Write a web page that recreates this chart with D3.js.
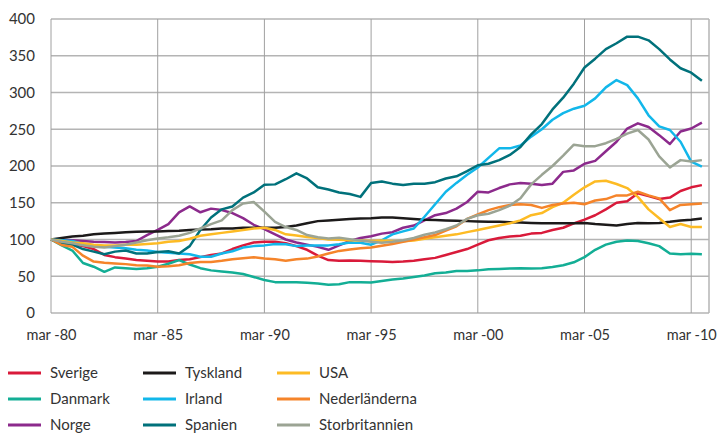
<!DOCTYPE html>
<html><head><meta charset="utf-8">
<script src="https://cdn.jsdelivr.net/npm/d3@7"></script>
<style>
html,body{margin:0;padding:0;background:#fff;}
svg{display:block;font-family:Lato,"Open Sans",sans-serif;}
</style></head><body>
<svg id="chart" width="720" height="434"></svg>
<script>
// Half-yearly observations (March / September), index 1980-03 = 100
const dates = ["1980-03","1980-09","1981-03","1981-09","1982-03","1982-09","1983-03","1983-09","1984-03","1984-09",
"1985-03","1985-09","1986-03","1986-09","1987-03","1987-09","1988-03","1988-09","1989-03","1989-09",
"1990-03","1990-09","1991-03","1991-09","1992-03","1992-09","1993-03","1993-09","1994-03","1994-09",
"1995-03","1995-09","1996-03","1996-09","1997-03","1997-09","1998-03","1998-09","1999-03","1999-09",
"2000-03","2000-09","2001-03","2001-09","2002-03","2002-09","2003-03","2003-09","2004-03","2004-09",
"2005-03","2005-09","2006-03","2006-09","2007-03","2007-09","2008-03","2008-09","2009-03","2009-09",
"2010-03","2010-09"];

const sverige = [100,97,94,91,87,79,76,74,72,71, 70,70,72,73,76,79,81,87,92,96,
 97,97,95,91,86,78,72,71,71.5,71, 70.5,70,69.5,70,71,73,75,79,83,87,
 93,99,102,104,105,108,109,113,116,122, 127,133,141,150,152,163,159,155,157,166, 171,174];
const danmark = [100,92,85,68,63,56,62,61,60,61, 63,67,72,66,61,58,56.5,55,53,49,
 45,42,42,42,41,40,38.5,39,42,42, 41.5,43.5,45.5,47,49,51,54,55,57,57,
 58,59.5,60,60.5,61,60.5,61,62.5,65,69, 76,86,93,97,98.5,98,95,91,81,80, 80.5,80];
const norge = [100,99.5,99,98,97,96.5,96,96.5,98,106, 113,121,137,145,137,142,140,136,129,120,
 114,107,100,96,93,90,86,92,98,102, 104.5,108,110,116,119,126,133,136,142,151,
 165,164,170,175,177,176,174,176,192,194, 203,207,220,233,251,258,253,242,230,247, 251,259];
const tyskland = [100,102,104,105,107,108,109,110,110.5,111, 111,111.5,112,113,113.5,114,115,115,116,116,
 116,116,117,119,122,125,126,127,128,128.5, 129,130,130,129,128,127,126.5,126,125.5,125,
 124.5,124,124,123.5,123,122.5,122,122,122,122, 122.5,121,120,119,121,122.5,122,122.5,124,126, 127,128.5];
const irland = [100,99,98,94,92,90,89,88,86,85, 83,82,81,80,76.5,76.5,81,84,89,91,
 92,94,93.5,91,92,92,92,93.5,96,95.5, 93,99,107,111,115,131,148,165,177,188,
 198,211,224,224,228,240,250,263,272,278, 282,292,307,317,310,292,269,254,249,233, 206,199];
const spanien = [100,95,93,87,83.5,80,83.5,85,81,81, 83,84,81,91,113,130,141,145,157,164,
 174.5,175,182,190,183,171,168,164,162,158, 177,179,176,174,176,176,178,183,186,193,
 201,203,208,215,226,243,257,277,293,312, 334,346,359,367,376,376,371,359,345,333, 327,316];
const usa = [100,98,96,95,93,92,92,93,93,94, 95,97,98,101,105,107,109,111,113,115,
 116,113,107,105.5,103.5,102,100,99.5,99,98.5, 98,98.5,98,97.5,98.5,101,103,105,107,110,
 113,116,119,122,126,133,136,144,150,161, 171,179,180,175.5,170,158,141,129,117,121, 117,117];
const nederlanderna = [100,92.5,90,78,70,68.5,67.5,66.5,65,64.5, 63,63.5,65,68,69.5,69.5,71,73,74.5,76,
 74,73,71,73,74,77,81,84.5,86.5,88, 89,91.5,94,97,100,103,106,112,118,128,
 134,140,144,147,148,147,143,147,149,150, 148,153,155,160,160,165,160,156,140,147, 148,149];
const storbritannien = [100,97,95,92,90,89,91,93,96,99, 101.5,103,105,109,115,121,126,140,149,151,
 138,124,117,113,106,103,101.5,102.5,100.5,98.5, 97,95.5,97,99,102,106.5,109.5,114,119,128,
 133,135,140,146,156,175,188,200,214,229, 227,227,231,237,244,249,236,213,198,208, 206,208];

const seriesNames = ["Sverige","Danmark","Norge","Tyskland","Irland","Spanien","USA","Nederländerna","Storbritannien"];
const seriesValues = [sverige,danmark,norge,tyskland,irland,spanien,usa,nederlanderna,storbritannien];
const seriesColors = ["#d91a3a","#13ae95","#8c2a8c","#1c1a1a","#12b7ea","#00717b","#fdbb24","#f5842a","#9ba494"];

const xTickDates = ["1980-03","1985-03","1990-03","1995-03","2000-03","2005-03","2010-03"];
const xTickLabels = ["mar -80","mar -85","mar -90","mar -95","mar -00","mar -05","mar -10"];
const yTicks = [0,50,100,150,200,250,300,350,400];

(function(){
const toYear = s => { const [yy,m] = s.split("-").map(Number); return yy + (m-1)/12; };

const svg = d3.select("#chart");
const pLeft = 51, pRight = 709, pTop = 19, pBottom = 313;

const x = d3.scaleLinear().domain([toYear("1980-03"), 2011.0]).range([pLeft, pRight]);
const y = d3.scaleLinear().domain([0,400]).range([pBottom, pTop]);

// horizontal grid
svg.append("g").selectAll("line").data(yTicks).join("line")
  .attr("x1", pLeft).attr("x2", pRight)
  .attr("y1", d => y(d)).attr("y2", d => y(d))
  .attr("stroke", "#b4b4b4").attr("stroke-width", 1.5);
// vertical grid
svg.append("g").selectAll("line").data(xTickDates).join("line")
  .attr("x1", d => x(toYear(d))).attr("x2", d => x(toYear(d)))
  .attr("y1", pTop).attr("y2", pBottom)
  .attr("stroke", "#a0a0a0").attr("stroke-width", 1);
// right border
svg.append("line").attr("x1", pRight).attr("x2", pRight).attr("y1", pTop).attr("y2", pBottom)
  .attr("stroke", "#b4b4b4").attr("stroke-width", 1.5);

// y axis labels
const yAxis = d3.axisLeft(y).tickValues(yTicks).tickSize(0).tickPadding(0);
const gy = svg.append("g").attr("transform", `translate(${pLeft-16},0)`).call(yAxis);
gy.select(".domain").remove();
gy.selectAll("text").attr("font-size", 15).attr("fill", "#333").attr("font-family", "Lato, 'Open Sans', sans-serif");

// x axis
const xAxis = d3.axisBottom(x).tickValues(xTickDates.map(toYear))
  .tickFormat((d,i) => xTickLabels[i]).tickSize(0).tickPadding(0);
const gx = svg.append("g").attr("transform", `translate(0,${pBottom+17})`).call(xAxis);
gx.select(".domain").remove();
gx.selectAll("text").attr("font-size", 14.5).attr("fill", "#333").attr("font-family", "Lato, 'Open Sans', sans-serif");

// lines
const line = d3.line().x((d,i) => x(toYear(dates[i]))).y(d => y(d)).curve(d3.curveLinear);
svg.append("g").selectAll("path").data(seriesValues).join("path")
  .attr("d", d => line(d))
  .attr("fill", "none")
  .attr("stroke", (d,i) => seriesColors[i])
  .attr("stroke-width", 2.5)
  .attr("stroke-linejoin", "round");

// legend (3 columns x 3 rows)
const colX = [8, 143, 277];
const rowY = [373, 399, 425];
const leg = svg.append("g").selectAll("g").data(seriesNames).join("g")
  .attr("transform", (d,i) => `translate(${colX[Math.floor(i/3)]},${rowY[i%3]})`);
leg.append("line").attr("x1", 0).attr("x2", 33).attr("y1", 0).attr("y2", 0)
  .attr("stroke", (d,i) => seriesColors[i]).attr("stroke-width", 3);
leg.append("text").attr("x", 42).attr("y", 0).attr("dy", "0.35em")
  .attr("font-size", 15).attr("fill", "#333").text(d => d);
})();
</script>
</body></html>
